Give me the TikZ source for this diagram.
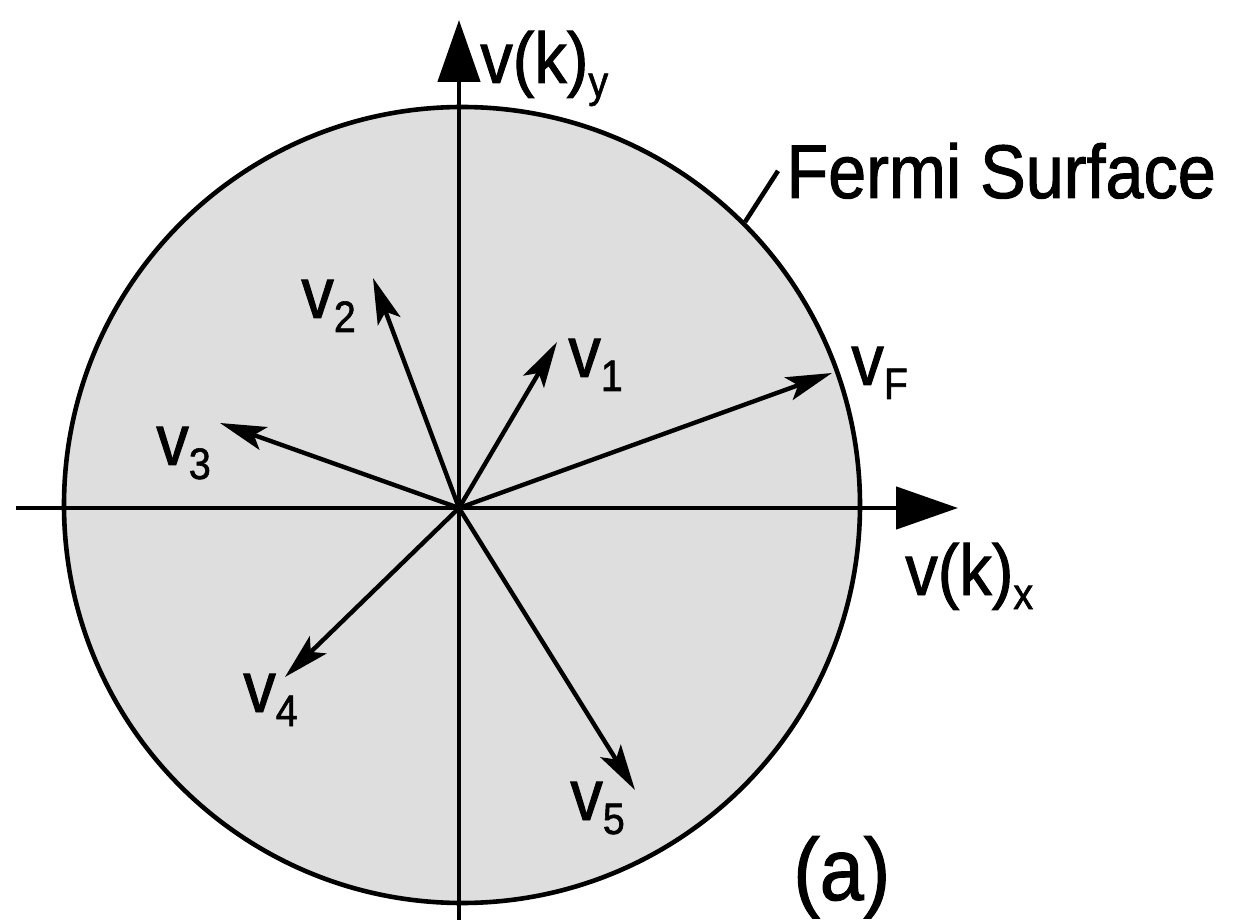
\documentclass[tikz,border=0pt]{standalone}
\usepackage{fontspec}
\setmainfont{Liberation Sans}[FakeStretch=0.9, FakeBold=1.3]
\usetikzlibrary{arrows.meta}
\newcommand\lbsub[2]{#1\raisebox{-7pt}{\fontsize{22}{22}\selectfont #2}}
\begin{document}
\begin{tikzpicture}[x=0.5pt,y=-0.5pt,
  lab/.style={inner sep=0pt, anchor=base west, font=\fontsize{36}{40}\selectfont},
  axis/.style={line width=2.4pt, -{Triangle[length=31pt,width=21pt]}},
  vec/.style={line width=2.2pt, -{Stealth[length=23pt,width=12pt,inset=5pt]}},
  fermi/.style={line width=2.3pt, draw, fill=black!13, circle, inner sep=0pt, minimum size=398pt}]
\useasboundingbox (0,0) rectangle (1250,920);
\node[fermi] (fs) at (462,505) {};
\coordinate (O) at (459,508);
\coordinate (xl) at (16,508);
\coordinate (xr) at (958,508);
\coordinate (yb) at (459,922);
\coordinate (yt) at (459,20);
\draw[axis] (xl) -- (xr);
\draw[axis] (yb) -- (yt);
\coordinate (t1) at (557,342);
\coordinate (t2) at (373,278);
\coordinate (t3) at (220,423);
\coordinate (t4) at (285,677);
\coordinate (t5) at (635,790);
\coordinate (tF) at (832,373);
\foreach \t in {t1,t2,t3,t4,t5,tF} \draw[vec] (O) -- (\t);
\node[lab] (vy) at (480,83) {\lbsub{v(k)}{y}};
\node[lab] (vx) at (905,595) {\lbsub{v(k)}{x}};
\node[lab] (lF) at (851,385) {\lbsub{v}{F}};
\node[lab] (l1) at (568,377) {\lbsub{v}{1}};
\node[lab] (l2) at (301,318) {\lbsub{v}{2}};
\node[lab] (l3) at (156,465) {\lbsub{v}{3}};
\node[lab] (l4) at (243,712) {\lbsub{v}{4}};
\node[lab] (l5) at (570,820) {\lbsub{v}{5}};
\node[lab, font=\fontsize{38}{42}\selectfont] (fermi) at (786,198) {Fermi Surface};
\draw[line width=2.3pt] (fs.45.7) -- ([xshift=-4pt]fermi.west);
\node[lab, font=\fontsize{44}{48}\selectfont] (pa) at (793,900) {(a)};
\end{tikzpicture}
\end{document}
